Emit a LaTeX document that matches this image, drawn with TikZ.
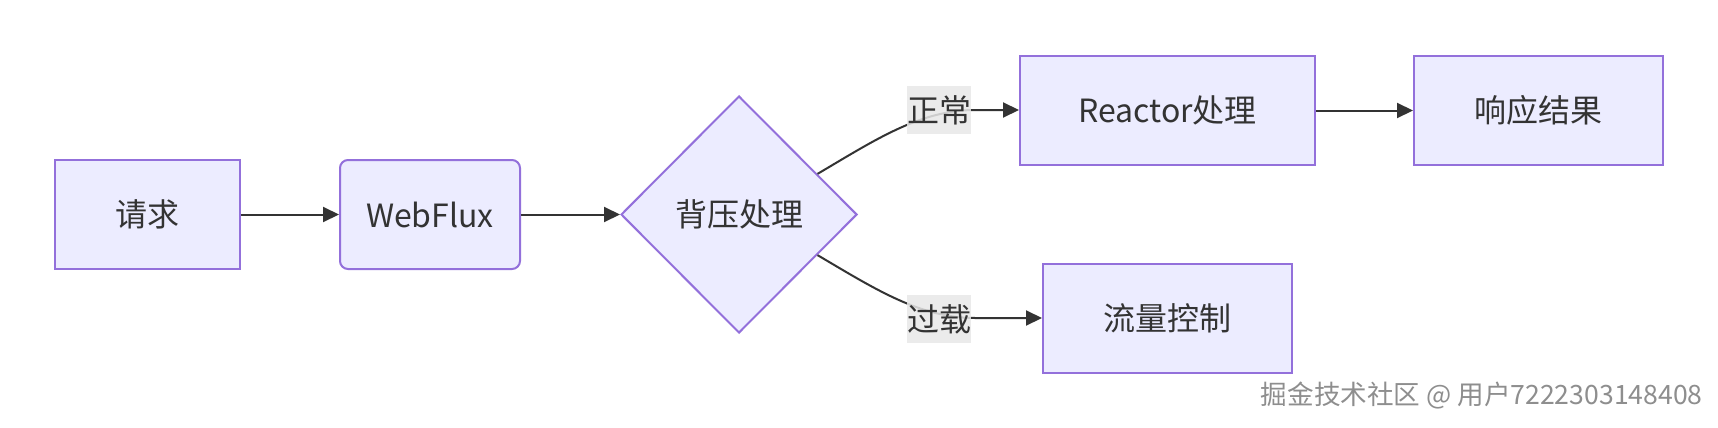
\documentclass[tikz,border=0pt]{standalone}
\usepackage{fontspec}
\setmainfont{Noto Sans CJK SC}
\usetikzlibrary{shapes.geometric,arrows.meta,calc}
\definecolor{nodefill}{HTML}{ECECFF}
\definecolor{nodeline}{HTML}{9370DB}
\definecolor{edgeline}{HTML}{333333}
\definecolor{labelbg}{HTML}{E8E8E8}
\definecolor{wmark}{HTML}{8E8E8E}
\begin{document}
\begin{tikzpicture}[x=0.5pt,y=-0.5pt,
  every node/.style={font=\fontsize{16pt}{19pt}\selectfont, text=edgeline},
  box/.style={draw=nodeline, fill=nodefill, line width=1pt, inner sep=0pt, minimum height=54.5pt},
  rbox/.style={box, rounded corners=4pt},
  decide/.style={diamond, aspect=1, draw=nodeline, fill=nodefill, line width=1pt, inner sep=0pt, minimum width=118pt, minimum height=118.5pt},
  elabel/.style={fill=labelbg, fill opacity=0.85, text opacity=1, inner sep=0pt, minimum width=32pt, minimum height=24pt},
  conn/.style={draw=edgeline, line width=1pt, -{Triangle[length=8pt,width=7.5pt]}}
]
\useasboundingbox (0,0) rectangle (1718,428);
\fill[white] (0,0) rectangle (1718,428);

\node[box, minimum width=92.5pt] (req) at (147.5,214.5) {请求};
\node[rbox, minimum width=90pt] (wf) at (430,214.5) {WebFlux};
\node[decide] (bp) at (739,214.5) {背压处理};
\node[box, minimum width=147.5pt] (rx) at (1167.5,110.5) {Reactor处理};
\node[box, minimum width=124.5pt] (resp) at (1538.5,110.5) {响应结果};
\node[box, minimum width=124.5pt] (flow) at (1167.5,318.5) {流量控制};

\coordinate (s1) at ($(bp.north)!0.66!(bp.east)$);
\coordinate (s2) at ($(bp.south)!0.66!(bp.east)$);
\coordinate (e1) at (975,110);
\coordinate (e2) at (975,318);

\draw[conn] (req.east) -- (wf.west);
\draw[conn] (wf.east) -- (bp.west);
\draw[conn] (s1) .. controls (875,140) and (920,110) .. (e1) -- (e1 -| rx.west);
\draw[conn] (s2) .. controls (875,289) and (920,318) .. (e2) -- (e2 -| flow.west);
\draw[conn] (rx.east) -- (resp.west);

\node[elabel] (lab1) at (939,110) {正常};
\node[elabel] (lab2) at (939,319) {过载};

\node[anchor=east, inner sep=0pt, text=wmark, font=\fontsize{13.3pt}{16pt}\selectfont] (wm) at (1703,396) {掘金技术社区 @ 用户7222303148408};
\end{tikzpicture}
\end{document}
